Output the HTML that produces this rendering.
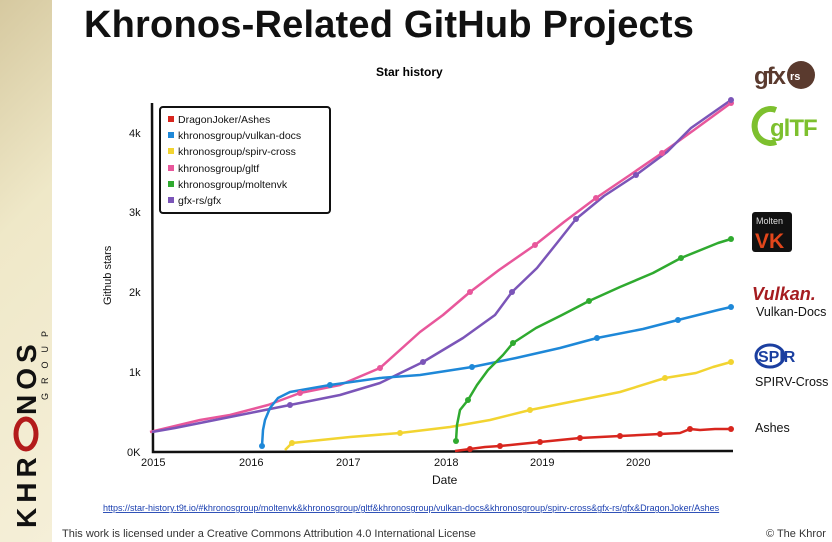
<!DOCTYPE html>
<html><head><meta charset="utf-8"><style>
body{margin:0;width:832px;height:542px;overflow:hidden;background:#fff;font-family:"Liberation Sans",sans-serif;position:relative}
.strip{position:absolute;left:0;top:0;width:52px;height:542px;background:linear-gradient(135deg,#d6c9a0,#efe8c8 40%,#f5efd8)}
</style></head><body>
<div class="strip"></div>
<div style="position:absolute;left:84px;top:4px;font-size:38px;font-weight:bold;color:#111;letter-spacing:0.2px">Khronos-Related GitHub Projects</div>
<svg width="832" height="542" style="position:absolute;left:0;top:0" font-family="Liberation Sans, sans-serif">
<g transform="translate(36,528) rotate(-90)">
<text x="0" y="0" font-size="28" font-weight="bold" fill="#111" letter-spacing="5">KHR</text>
<ellipse cx="94" cy="-10" rx="15" ry="10" fill="none" stroke="#b31b1b" stroke-width="5"/>
<text x="113" y="0" font-size="28" font-weight="bold" fill="#111" letter-spacing="5">NOS</text>
<text x="128" y="12" font-size="9" fill="#111" letter-spacing="9">GROUP</text>
</g>
<text x="376" y="76" font-size="12" font-weight="bold">Star history</text>
<path d="M152,103 L153,452 L733,451" fill="none" stroke="#111" stroke-width="2.5"/>
<g font-size="11" fill="#111">
<text x="127" y="456">0K</text><text x="129" y="376">1k</text><text x="129" y="296">2k</text><text x="129" y="216">3k</text><text x="129" y="137">4k</text>
<text x="141" y="466">2015</text><text x="239" y="466">2016</text><text x="336" y="466">2017</text><text x="434" y="466">2018</text><text x="530" y="466">2019</text><text x="626" y="466">2020</text>
<text x="432" y="484" font-size="12">Date</text>
<text transform="translate(111,305) rotate(-90)" font-size="11">Github stars</text>
</g>
<g fill="none" stroke-width="2.5" stroke-linejoin="round">
<polyline stroke="#e8579b" points="150,432 200,420 230,415 268,405 300,393 340,385 380,368 420,332 443,315 470,292 499,270 535,245 564,222 596,198 630,175 662,153 694,130 731,103"/>
<polyline stroke="#7b55b8" points="152,432 175,428 200,423 250,413 290,405 340,395 380,383 423,362 463,338 495,315 512,292 537,268 557,243 576,219 604,196 636,175 667,152 691,128 731,100"/>
<polyline stroke="#1e88d8" points="262,446 263,430 265,420 270,408 278,398 290,392 330,385 380,378 420,375 472,367 516,358 560,348 597,338 643,329 678,320 718,310 731,307"/>
<polyline stroke="#f2d431" points="285,450 292,443 350,437 400,433 450,427 490,420 530,410 580,400 620,392 665,378 696,373 713,367 731,362"/>
<polyline stroke="#2faa2f" points="456,441 457,425 460,410 468,400 477,385 488,370 503,355 513,343 536,328 562,315 589,301 620,287 653,273 681,258 718,243 731,239"/>
<polyline stroke="#d8261e" points="455,451 470,449 485,447 500,446 520,444 540,442 560,440 580,438 600,437 620,436 640,435 660,434 680,433 690,429 700,430 715,429 731,429"/>
</g>
<g>
<g fill="#e8579b"><circle cx="300" cy="393" r="3"/><circle cx="380" cy="368" r="3"/><circle cx="470" cy="292" r="3"/><circle cx="535" cy="245" r="3"/><circle cx="596" cy="198" r="3"/><circle cx="662" cy="153" r="3"/><circle cx="731" cy="103" r="3"/></g>
<g fill="#7b55b8"><circle cx="290" cy="405" r="3"/><circle cx="423" cy="362" r="3"/><circle cx="512" cy="292" r="3"/><circle cx="576" cy="219" r="3"/><circle cx="636" cy="175" r="3"/><circle cx="731" cy="100" r="3"/></g>
<g fill="#1e88d8"><circle cx="262" cy="446" r="3"/><circle cx="330" cy="385" r="3"/><circle cx="472" cy="367" r="3"/><circle cx="597" cy="338" r="3"/><circle cx="678" cy="320" r="3"/><circle cx="731" cy="307" r="3"/></g>
<g fill="#f2d431"><circle cx="292" cy="443" r="3"/><circle cx="400" cy="433" r="3"/><circle cx="530" cy="410" r="3"/><circle cx="665" cy="378" r="3"/><circle cx="731" cy="362" r="3"/></g>
<g fill="#2faa2f"><circle cx="456" cy="441" r="3"/><circle cx="468" cy="400" r="3"/><circle cx="513" cy="343" r="3"/><circle cx="589" cy="301" r="3"/><circle cx="681" cy="258" r="3"/><circle cx="731" cy="239" r="3"/></g>
<g fill="#d8261e"><circle cx="470" cy="449" r="3"/><circle cx="500" cy="446" r="3"/><circle cx="540" cy="442" r="3"/><circle cx="580" cy="438" r="3"/><circle cx="620" cy="436" r="3"/><circle cx="660" cy="434" r="3"/><circle cx="690" cy="429" r="3"/><circle cx="731" cy="429" r="3"/></g>
</g>
<rect x="160" y="107" width="170" height="106" rx="3" fill="#fff" stroke="#111" stroke-width="2"/>
<g font-size="10.5" fill="#111">
<rect x="168" y="116" width="6" height="6" fill="#d8261e"/><text x="178" y="123">DragonJoker/Ashes</text>
<rect x="168" y="132" width="6" height="6" fill="#1e88d8"/><text x="178" y="139">khronosgroup/vulkan-docs</text>
<rect x="168" y="148" width="6" height="6" fill="#f2d431"/><text x="178" y="155">khronosgroup/spirv-cross</text>
<rect x="168" y="165" width="6" height="6" fill="#e8579b"/><text x="178" y="172">khronosgroup/gltf</text>
<rect x="168" y="181" width="6" height="6" fill="#2faa2f"/><text x="178" y="188">khronosgroup/moltenvk</text>
<rect x="168" y="197" width="6" height="6" fill="#7b55b8"/><text x="178" y="204">gfx-rs/gfx</text>
</g>
<circle cx="801" cy="75" r="14" fill="#5a3a2e"/>
<text x="754" y="84" font-size="24" font-weight="bold" fill="#5a3a2e" letter-spacing="-2">gfx</text>
<text x="790" y="80" font-size="11" font-weight="bold" fill="#fff">rs</text>
<path d="M776,110 A16,17 0 1 0 776,142" fill="none" stroke="#7dc02e" stroke-width="6"/>
<text x="770" y="136" font-size="24" font-weight="bold" fill="#7dc02e" letter-spacing="-1">glTF</text>
<rect x="752" y="212" width="40" height="40" rx="3" fill="#111"/>
<text x="756" y="224" font-size="9" fill="#ddd">Molten</text>
<text x="755" y="248" font-size="21" font-weight="bold" fill="#e2461b">VK</text>
<text x="752" y="300" font-size="18" font-weight="bold" font-style="italic" fill="#a51c20">Vulkan.</text>
<text x="756" y="316" font-size="12.5" fill="#111">Vulkan-Docs</text>
<ellipse cx="770" cy="356" rx="14" ry="11" fill="none" stroke="#1b3fa0" stroke-width="3"/>
<text x="758" y="362" font-size="16" font-weight="bold" fill="#1b3fa0">SPIR</text>
<text x="755" y="386" font-size="12.5" fill="#111">SPIRV-Cross</text>
<text x="755" y="432" font-size="12.5" fill="#111">Ashes</text>
<text x="103" y="511" font-size="9" fill="#1a3fb0" text-decoration="underline">https://star-history.t9t.io/#khronosgroup/moltenvk&amp;khronosgroup/gltf&amp;khronosgroup/vulkan-docs&amp;khronosgroup/spirv-cross&amp;gfx-rs/gfx&amp;DragonJoker/Ashes</text>
<text x="62" y="537" font-size="11" fill="#333">This work is licensed under a Creative Commons Attribution 4.0 International License</text>
<text x="766" y="537" font-size="11" fill="#333">© The Khror</text>
</svg>
</body></html>
